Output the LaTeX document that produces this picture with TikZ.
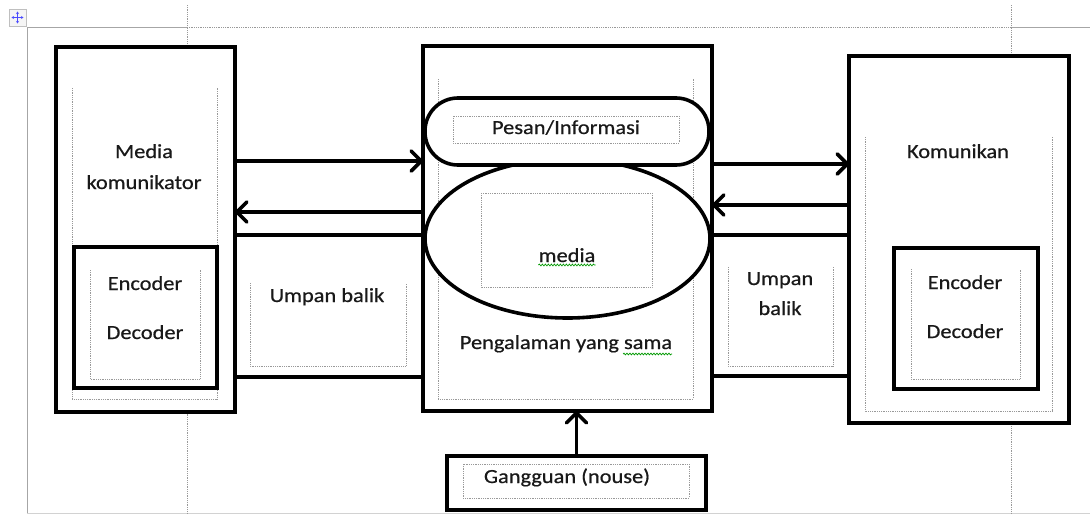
\documentclass[tikz,border=0pt]{standalone}
\usepackage{fontspec}
\setmainfont[FakeStretch=1.12,FakeBold=0.6]{Carlito}
\usetikzlibrary{arrows.meta,shapes.geometric,decorations.pathmorphing}
\tikzset{
	kotak/.style={draw=black,line width=3.6pt,fill=white,inner sep=0pt,outer sep=0pt},
	tepi/.style={draw=gray!80,densely dotted,line width=0.8pt},
	halaman/.style={draw=gray!70,line width=0.8pt},
	panah/.style={line width=3.6pt,-{Straight Barb[length=10pt,width=20pt,round]}},
	tulis/.style={anchor=base,font=\fontsize{20}{24}\selectfont,text=black!90,inner sep=0pt},
	ejaan/.style={draw=green!60!black,line width=0.7pt,decorate,
		decoration={snake,amplitude=0.9pt,segment length=3pt}}
}
\begin{document}
\begin{tikzpicture}[x=1pt,y=-1pt]
	\useasboundingbox (0,0) rectangle (1090,514);
	\draw[halaman] (27,514) -- (27,27) -- (187,27);
	\draw[halaman] (1011,27) -- (1090,27);
	\draw[tepi] (187,27) -- (1011,27);
	\draw[halaman,draw=gray!35] (27,513) -- (1090,513);
	\draw[tepi] (187,5) -- (187,514);
	\draw[tepi] (1011,5) -- (1011,514);
	\draw[draw=gray!50,fill=gray!8,line width=0.6pt] (9,9) rectangle (26,26);
	\draw[blue!70,line width=0.9pt,{Stealth[length=2.5pt,width=3pt]}-{Stealth[length=2.5pt,width=3pt]}]
		(11.5,17.5) -- (23.5,17.5);
	\draw[blue!70,line width=0.9pt,{Stealth[length=2.5pt,width=3pt]}-{Stealth[length=2.5pt,width=3pt]}]
		(17.5,11.5) -- (17.5,23.5);

	\node[kotak,minimum width=188,minimum height=142] (umpanKiri) at (329,306) {};
	\node[kotak,minimum width=179,minimum height=365] (komunikator) at (145.5,229.5) {};
	\draw[tepi] (72,88) |- (217,399) -- (217,88);
	\node[kotak,minimum width=143,minimum height=141] (encKiri) at (145.5,317.5) {};
	\draw[tepi] (90,270) |- (200,379) -- (200,270);
	\draw[tepi] (250,283) |- (406,366) -- (406,283);

	\node[kotak,minimum width=139,minimum height=141] (umpanKanan) at (781.5,305.5) {};
	\node[kotak,minimum width=220,minimum height=367] (komunikan) at (959,239.5) {};
	\draw[tepi] (865,137) |- (1052,411) -- (1052,137);
	\node[kotak,minimum width=144,minimum height=141] (encKanan) at (966,318.5) {};
	\draw[tepi] (911,269) |- (1020,379) -- (1020,269);
	\draw[tepi] (728,267) |- (833,366) -- (833,267);

	\node[kotak,minimum width=289,minimum height=365] (pusat) at (567.5,228.5) {};
	\draw[tepi] (438,79) |- (693,399) -- (693,79);
	\node[kotak,ellipse,minimum width=285,minimum height=159] (media) at (567.5,238.5) {};
	\node[kotak,rounded corners=33pt,minimum width=284,minimum height=67] (pesan) at (567,131.5) {};
	\draw[tepi] (453,116) rectangle (679,143);
	\draw[tepi] (481,193) rectangle (652,287);

	\node[kotak,minimum width=259,minimum height=54] (gangguan) at (576.5,483) {};
	\draw[tepi] (463,464) rectangle (689,498);

	\draw[panah] (komunikator.east |- 0,161) -- (pusat.west |- 0,161);
	\draw[panah] (pusat.west |- 0,212) -- (komunikator.east |- 0,212);
	\draw[panah] (pusat.east |- 0,164) -- (komunikan.west |- 0,164);
	\draw[panah] (komunikan.west |- 0,205) -- (pusat.east |- 0,205);
	\draw[panah] (gangguan.north) -- (gangguan.north |- pusat.south);

	\node[tulis] (tMedia) at (144,158) {Media};
	\node[tulis] (tKomunikator) at (144,189) {komunikator};
	\node[tulis] (tEncKiri) at (145,290) {Encoder};
	\node[tulis] (tDecKiri) at (145,339) {Decoder};
	\node[tulis] (tUmpanKiri) at (327,302) {Umpan balik};
	\node[tulis] (tPesan) at (566,134) {Pesan/Informasi};
	\node[tulis] (tMediaPusat) at (567,262) {media};
	\node[tulis] (tPengalaman) at (566,349) {Pengalaman yang sama};
	\node[tulis] (tGangguan) at (567,483) {Gangguan (nouse)};
	\node[tulis] (tUmpanKanan) at (780,285) {Umpan};
	\node[tulis] (tBalikKanan) at (780,315) {balik};
	\node[tulis] (tKomunikan) at (958,158) {Komunikan};
	\node[tulis] (tEncKanan) at (965,289) {Encoder};
	\node[tulis] (tDecKanan) at (965,338) {Decoder};
	\draw[ejaan] ([yshift=-3pt]tMediaPusat.base west) -- ([yshift=-3pt]tMediaPusat.base east);
	\draw[ejaan] (623,354) -- (672,354);
\end{tikzpicture}
\end{document}
